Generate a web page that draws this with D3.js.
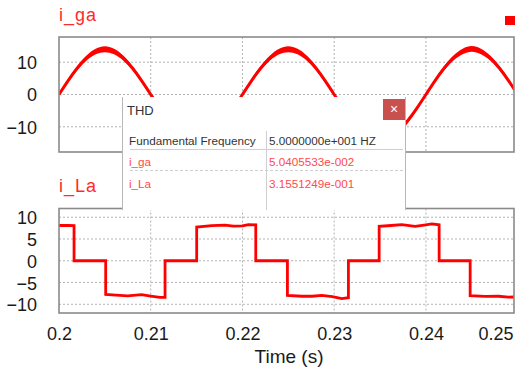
<!DOCTYPE html>
<html>
<head>
<meta charset="utf-8">
<script src="https://cdn.jsdelivr.net/npm/d3@7"></script>
<style>
  html, body { margin: 0; padding: 0; background: #fff; }
  svg { display: block; font-family: "Liberation Sans", Arial, sans-serif; }
</style>
</head>
<body>
<svg id="chart" width="516" height="370"></svg>
<script>
// Time axis
const timeTicks = [0.20, 0.21, 0.22, 0.23, 0.24, 0.25];
const timeTickLabels = ["0.2", "0.21", "0.22", "0.23", "0.24", "0.25"];

// Grid current i_ga (sampled every 1 ms), with its switching-ripple half width
const gaTime = [0.200,0.201,0.202,0.203,0.204,0.205,0.206,0.207,0.208,0.209,
                0.210,0.211,0.212,0.213,0.214,0.215,0.216,0.217,0.218,0.219,
                0.220,0.221,0.222,0.223,0.224,0.225,0.226,0.227,0.228,0.229,
                0.230,0.231,0.232,0.233,0.234,0.235,0.236,0.237,0.238,0.239,
                0.240,0.241,0.242,0.243,0.244,0.245,0.246,0.247,0.248,0.249,0.250];
const gaValue = [0.0, 4.3, 8.2, 11.3, 13.3, 14.0, 13.3, 11.3, 8.2, 4.3,
                 0.0,-4.3,-8.2,-11.3,-13.3,-14.0,-13.3,-11.3,-8.2,-4.3,
                 0.0, 4.3, 8.2, 11.3, 13.3, 14.0, 13.3, 11.3, 8.2, 4.3,
                 0.0,-4.3,-8.2,-11.3,-13.3,-14.0,-13.3,-11.3,-8.2,-4.3,
                 0.0, 4.3, 8.2, 11.3, 13.3, 14.1, 13.3, 11.3, 8.2, 4.3, 0.0];
const gaRipple = [0.35,0.5,0.65,0.78,0.85,0.9,0.85,0.78,0.65,0.5,
                  0.35,0.5,0.65,0.78,0.85,0.9,0.85,0.78,0.65,0.5,
                  0.35,0.5,0.65,0.78,0.85,0.9,0.85,0.78,0.65,0.5,
                  0.35,0.5,0.65,0.78,0.85,0.9,0.85,0.78,0.65,0.5,
                  0.35,0.5,0.65,0.78,0.85,0.9,0.85,0.78,0.65,0.5,0.35];
const gaTicks = [-10, 0, 10];

// Load current i_La (six-step waveform breakpoints)
const laTime = [0.2000,0.2010,0.20164,0.20164,0.20509,0.20509,0.2062,0.2075,0.2090,0.2100,0.2110,0.21156,
                0.21156,0.21501,0.21501,0.21665,0.2181,0.2190,0.2200,0.22065,0.22145,
                0.22145,0.2249,0.2249,0.2265,0.2276,0.22865,0.2298,0.23083,0.23155,
                0.23155,0.2349,0.2349,0.2362,0.23737,0.23882,0.2398,0.24064,0.24144,
                0.24144,0.24482,0.24482,0.24645,0.2479,0.2490,0.2500];
const laValue = [8.1,8.1,8.05,0,0,-7.75,-7.9,-8.05,-7.8,-8.1,-8.4,-8.4,
                 0,0,7.75,8.05,8.2,7.95,8.0,8.3,8.25,
                 0,0,-7.95,-8.15,-8.15,-7.95,-8.25,-8.7,-8.5,
                 0,0,7.9,8.1,8.3,7.9,8.2,8.45,8.25,
                 0,0,-8.0,-8.2,-8.15,-8.35,-8.3];
const laTicks = [-10, -5, 0, 5, 10];

// THD table
const thdHeader = ["Fundamental Frequency", "5.0000000e+001 HZ"];
const thdNames = ["i_ga", "i_La"];
const thdValues = ["5.0405533e-002", "3.1551249e-001"];

const RED = "#ff0000";
const svg = d3.select("#chart");

const left = 59, right = 514;
const x = d3.scaleLinear().domain([0.2, 0.2496]).range([left, right]);

function panel(top, bottom, domain, ticks, id) {
  const y = d3.scaleLinear().domain(domain).range([bottom, top]);
  const g = svg.append("g");
  g.append("clipPath").attr("id", id).append("rect")
    .attr("x", left).attr("y", top).attr("width", right - left).attr("height", bottom - top);
  // horizontal grid
  g.selectAll(".hg").data(ticks).enter().append("line")
    .attr("x1", left).attr("x2", right)
    .attr("y1", d => y(d)).attr("y2", d => y(d))
    .attr("stroke", "#b3b3b3").attr("stroke-width", 1).attr("stroke-dasharray", "2,2");
  // vertical grid
  g.selectAll(".vg").data(timeTicks.slice(1, 5)).enter().append("line")
    .attr("x1", d => x(d)).attr("x2", d => x(d))
    .attr("y1", top).attr("y2", bottom)
    .attr("stroke", "#b3b3b3").attr("stroke-width", 1).attr("stroke-dasharray", "2,2");
  // y axis labels
  const ax = d3.axisLeft(y).tickValues(ticks).tickSize(0).tickPadding(0);
  const axg = g.append("g").attr("transform", `translate(37,0)`).call(ax);
  axg.select(".domain").remove();
  axg.selectAll("text").attr("font-size", 18).attr("fill", "#1a1a1a")
    .attr("font-family", "'Liberation Sans', Arial, sans-serif").attr("dy", "0.36em");
  return { y, g, top, bottom };
}

function frame(p) {
  p.g.append("rect").attr("x", left).attr("y", p.top)
    .attr("width", right - left).attr("height", p.bottom - p.top)
    .attr("fill", "none").attr("stroke", "#8a8a8a").attr("stroke-width", 1.6);
}

// ---- top panel: i_ga ----
const pTop = panel(37, 152, [-17.8, 17.8], gaTicks, "clipTop");
const gaData = gaTime.map((t, i) => ({ t, v: gaValue[i], r: gaRipple[i] }));
const plotTop = pTop.g.append("g").attr("clip-path", "url(#clipTop)");
plotTop.append("path").datum(gaData)
  .attr("d", d3.area().curve(d3.curveNatural)
    .x(d => x(d.t)).y0(d => pTop.y(d.v - d.r)).y1(d => pTop.y(d.v + d.r)))
  .attr("fill", RED);
plotTop.append("path").datum(gaData)
  .attr("d", d3.line().curve(d3.curveNatural).x(d => x(d.t)).y(d => pTop.y(d.v)))
  .attr("fill", "none").attr("stroke", RED).attr("stroke-width", 3);
frame(pTop);

svg.append("text").attr("x", 59).attr("y", 21).text("i_ga")
  .attr("font-size", 18).attr("fill", "#ff2a2a")
  .attr("textLength", 37).attr("lengthAdjust", "spacing");
svg.append("rect").attr("x", 505).attr("y", 16).attr("width", 10).attr("height", 9).attr("fill", RED);

// ---- bottom panel: i_La ----
const pBot = panel(208.5, 313, [-12, 12], laTicks, "clipBot");
const laData = laTime.map((t, i) => ({ t, v: laValue[i] }));
pBot.g.append("g").attr("clip-path", "url(#clipBot)")
  .append("path").datum(laData)
  .attr("d", d3.line().x(d => x(d.t)).y(d => pBot.y(d.v)))
  .attr("fill", "none").attr("stroke", RED).attr("stroke-width", 2.8)
  .attr("stroke-linejoin", "miter");
frame(pBot);

svg.append("text").attr("x", 59).attr("y", 192).text("i_La")
  .attr("font-size", 18).attr("fill", "#ff2a2a")
  .attr("textLength", 37).attr("lengthAdjust", "spacing");

// time axis labels
const xAxis = d3.axisBottom(x).tickValues(timeTicks).tickSize(0).tickPadding(0)
  .tickFormat((d, i) => timeTickLabels[i]);
const xg = svg.append("g").attr("transform", "translate(0,327)").call(xAxis);
xg.select(".domain").remove();
xg.selectAll("text").attr("font-size", 18).attr("fill", "#1a1a1a")
  .attr("font-family", "'Liberation Sans', Arial, sans-serif").attr("dy", "0.71em");
// last label is pulled inside the window edge
xg.selectAll(".tick").filter(d => d === 0.25).select("text")
  .attr("text-anchor", "end").attr("x", 513 - x(0.25));
svg.append("text").attr("x", 289).attr("y", 363).attr("text-anchor", "middle")
  .attr("font-size", 19).attr("fill", "#1a1a1a").text("Time (s)");

// ---- THD dialog ----
const box = svg.append("g");
box.append("rect").attr("x", 122.5).attr("y", 97).attr("width", 283.5).attr("height", 113)
  .attr("fill", "#fff");
box.append("line").attr("x1", 122.5).attr("x2", 122.5).attr("y1", 97).attr("y2", 210)
  .attr("stroke", "#b8b8b8").attr("stroke-width", 1);
box.append("line").attr("x1", 405.5).attr("x2", 405.5).attr("y1", 97).attr("y2", 210)
  .attr("stroke", "#b8b8b8").attr("stroke-width", 1);
box.append("text").attr("x", 127).attr("y", 115).text("THD")
  .attr("font-size", 13).attr("fill", "#333");
box.append("rect").attr("x", 383).attr("y", 99).attr("width", 22).attr("height", 21)
  .attr("fill", "#c8514f");
box.append("text").attr("x", 394).attr("y", 114).attr("text-anchor", "middle")
  .attr("font-size", 14).attr("fill", "#fff").text("\u00d7");

box.append("line").attr("x1", 130).attr("x2", 403).attr("y1", 149.5).attr("y2", 149.5)
  .attr("stroke", "#cfcfcf").attr("stroke-width", 1);
box.append("line").attr("x1", 130).attr("x2", 403).attr("y1", 170.5).attr("y2", 170.5)
  .attr("stroke", "#cfcfcf").attr("stroke-width", 1).attr("stroke-dasharray", "3,2");
box.append("line").attr("x1", 266.5).attr("x2", 266.5).attr("y1", 131).attr("y2", 210)
  .attr("stroke", "#cfcfcf").attr("stroke-width", 1);

box.append("text").attr("x", 129).attr("y", 145).text(thdHeader[0])
  .attr("font-size", 11.7).attr("fill", "#333");
box.append("text").attr("x", 269).attr("y", 145).text(thdHeader[1])
  .attr("font-size", 11.7).attr("fill", "#333");
box.selectAll(".nm").data(thdNames).enter().append("text")
  .attr("x", 129).attr("y", (d, i) => 166 + i * 22).text(d => d)
  .attr("font-size", 11.7).attr("fill", "#ff4a4a");
box.selectAll(".vl").data(thdValues).enter().append("text")
  .attr("x", 269).attr("y", (d, i) => 166 + i * 22).text(d => d)
  .attr("font-size", 11.7).attr("fill", "#ff4a4a");
</script>
</body>
</html>
